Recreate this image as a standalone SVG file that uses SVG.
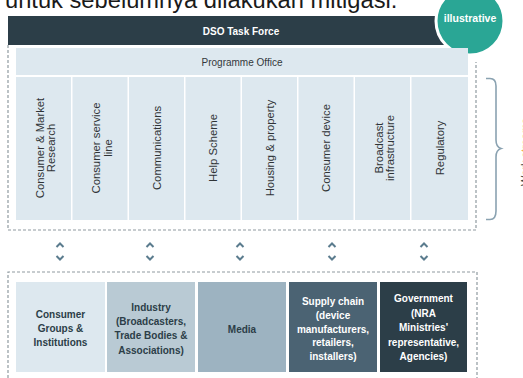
<svg xmlns="http://www.w3.org/2000/svg" width="523" height="378" viewBox="0 0 523 378">
  <defs>
    <style>
      .t { font-family: "Liberation Sans", Arial, sans-serif; }
      .dash { fill: none; stroke: #8f9aa0; stroke-width: 1.2; stroke-dasharray: 3 2; }
      .col { fill: #dde8ef; }
      .colt { font-family: "Liberation Sans", Arial, sans-serif; font-size: 11.3px; fill: #2f3336; text-anchor: middle; }
      .bt { font-family: "Liberation Sans", Arial, sans-serif; font-size: 10px; font-weight: bold; text-anchor: middle; }
      .chev { fill: none; stroke: #5b7c8e; stroke-width: 2; stroke-linecap: butt; stroke-linejoin: miter; }
    </style>
  </defs>
  <rect width="523" height="378" fill="#ffffff"/>

  <!-- running sentence above the chart, clipped by the top edge -->
  <text class="t" x="5" y="7.5" font-size="23.7" fill="#1a1a1a">untuk sebelumnya dilakukan mitigasi.</text>

  <!-- task force outline -->
  <path class="dash" d="M8 45 V230 H476 V62"/>

  <g id="task-force">
    <rect x="8" y="16" width="455" height="29" fill="#2c3e48"/>
    <text class="t" x="241" y="34.5" font-size="10" font-weight="bold" fill="#ffffff" text-anchor="middle">DSO Task Force</text>
  </g>

  <g id="illustrative-badge">
    <circle cx="470" cy="21" r="34" fill="#2aa695" stroke="#ffffff" stroke-width="3"/>
    <text class="t" x="470" y="22" font-size="10.5" font-weight="bold" fill="#ffffff" text-anchor="middle">illustrative</text>
  </g>

  <g id="programme-office">
    <rect class="col" x="16" y="48" width="452" height="27"/>
    <text class="t" x="242" y="65.5" font-size="10" fill="#33383b" text-anchor="middle">Programme Office</text>
  </g>

  <!-- work streams -->
  <g id="ws-consumer-market-research">
    <rect class="col" x="16" y="77" width="55" height="143"/>
    <text class="colt" transform="translate(45.5 148) rotate(-90)"><tspan x="0" y="-1.8">Consumer &amp; Market</tspan><tspan x="0" y="9.6">Research</tspan></text>
  </g>
  <g id="ws-consumer-service-line">
    <rect class="col" x="72.5" y="77" width="55" height="143"/>
    <text class="colt" transform="translate(102 148) rotate(-90)"><tspan x="0" y="-1.8">Consumer service</tspan><tspan x="0" y="9.6">line</tspan></text>
  </g>
  <g id="ws-communications">
    <rect class="col" x="129" y="77" width="55" height="143"/>
    <text class="colt" transform="translate(156.5 148) rotate(-90)" y="4">Communications</text>
  </g>
  <g id="ws-help-scheme">
    <rect class="col" x="185.5" y="77" width="55" height="143"/>
    <text class="colt" transform="translate(213 148) rotate(-90)" y="4">Help Scheme</text>
  </g>
  <g id="ws-housing-property">
    <rect class="col" x="242" y="77" width="55" height="143"/>
    <text class="colt" transform="translate(269.5 148) rotate(-90)" y="4">Housing &amp; property</text>
  </g>
  <g id="ws-consumer-device">
    <rect class="col" x="298.5" y="77" width="55" height="143"/>
    <text class="colt" transform="translate(326 148) rotate(-90)" y="4">Consumer device</text>
  </g>
  <g id="ws-broadcast-infrastructure">
    <rect class="col" x="355" y="77" width="55" height="143"/>
    <text class="colt" transform="translate(384.5 148) rotate(-90)"><tspan x="0" y="-1.8">Broadcast</tspan><tspan x="0" y="9.6">infrastructure</tspan></text>
  </g>
  <g id="ws-regulatory">
    <rect class="col" x="411.5" y="77" width="56.5" height="143"/>
    <text class="colt" transform="translate(439.5 148) rotate(-90)" y="4">Regulatory</text>
  </g>

  <!-- brace grouping the work streams, label running off the right edge -->
  <g id="brace">
    <path d="M486 78.5 H490 Q496 78.5 496 86 V140 Q496 147 501 148.5 Q496 150 496 157 V211 Q496 219.5 490 219.5 H486" fill="none" stroke="#8aa2b1" stroke-width="1.6"/>
    <text class="t" transform="translate(529 186) rotate(-90)" font-size="11"><tspan fill="#3a3f42">Work </tspan><tspan fill="#f0a33a">streams</tspan></text>
  </g>

  <!-- two-way links between task force and stakeholders -->
  <g id="connectors">
    <path class="chev" d="M56.5 247 L60 243.5 L63.5 247 M56.5 256 L60 259.5 L63.5 256"/>
    <path class="chev" d="M146.5 247 L150 243.5 L153.5 247 M146.5 256 L150 259.5 L153.5 256"/>
    <path class="chev" d="M236.5 247 L240 243.5 L243.5 247 M236.5 256 L240 259.5 L243.5 256"/>
    <path class="chev" d="M328.5 247 L332 243.5 L335.5 247 M328.5 256 L332 259.5 L335.5 256"/>
    <path class="chev" d="M420.5 247 L424 243.5 L427.5 247 M420.5 256 L424 259.5 L427.5 256"/>
  </g>

  <!-- stakeholder outline -->
  <path class="dash" d="M8 378 V272 H477 V378"/>

  <g id="stakeholder-consumer-groups">
    <rect x="16" y="282" width="89" height="90" fill="#dde8ef"/>
    <text class="bt" fill="#2c3e48"><tspan x="60.5" y="318">Consumer</tspan><tspan x="60.5" y="332">Groups &amp;</tspan><tspan x="60.5" y="346">Institutions</tspan></text>
  </g>
  <g id="stakeholder-industry">
    <rect x="107" y="282" width="88" height="90" fill="#b9cad4"/>
    <text class="bt" fill="#2c3e48"><tspan x="151" y="311">Industry</tspan><tspan x="151" y="325">(Broadcasters,</tspan><tspan x="151" y="339">Trade Bodies &amp;</tspan><tspan x="151" y="353.5">Associations)</tspan></text>
  </g>
  <g id="stakeholder-media">
    <rect x="198" y="282" width="88" height="90" fill="#9db3c1"/>
    <text class="bt" fill="#2c3e48" x="242" y="332.5">Media</text>
  </g>
  <g id="stakeholder-supply-chain">
    <rect x="289" y="282" width="88" height="90" fill="#4b6373"/>
    <text class="bt" fill="#ffffff"><tspan x="333" y="304.5">Supply chain</tspan><tspan x="333" y="318.5">(device</tspan><tspan x="333" y="332.5">manufacturers,</tspan><tspan x="333" y="346">retailers,</tspan><tspan x="333" y="360">installers)</tspan></text>
  </g>
  <g id="stakeholder-government">
    <rect x="380" y="282" width="87" height="90" fill="#2c3e48"/>
    <text class="bt" fill="#ffffff"><tspan x="423.5" y="301.5">Government</tspan><tspan x="423.5" y="316.5">(NRA</tspan><tspan x="423.5" y="331">Ministries'</tspan><tspan x="423.5" y="345.5">representative,</tspan><tspan x="423.5" y="359.5">Agencies)</tspan></text>
  </g>
</svg>
